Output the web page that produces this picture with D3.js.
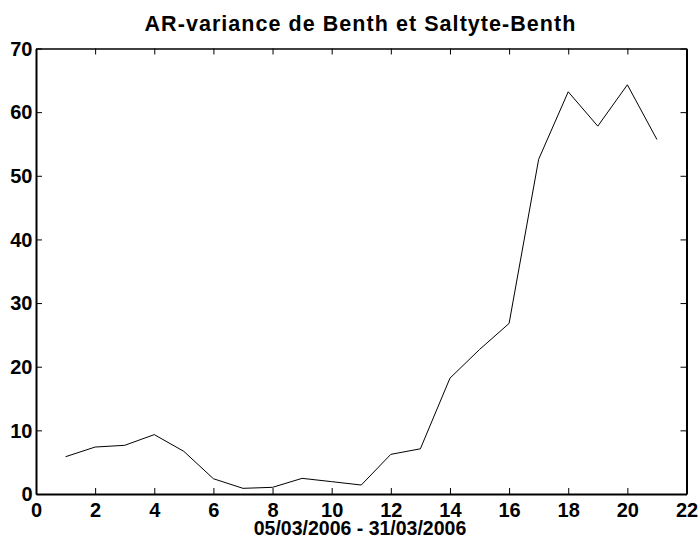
<!DOCTYPE html>
<html>
<head>
<meta charset="utf-8">
<script src="https://cdn.jsdelivr.net/npm/d3@7"></script>
<style>
  html, body { margin: 0; padding: 0; background: #fff; }
  svg { display: block; }
  text { font-family: "Liberation Sans", Arial, sans-serif; font-weight: bold; fill: #000; }
</style>
</head>
<body>
<svg id="chart" width="700" height="539"></svg>
<script>
// Observation index (days) and AR variance estimates
const days = [1,2,3,4,5,6,7,8,9,10,11,12,13,14,15,16,17,18,19,20,21];
const variance = [5.86,7.38,7.65,9.33,6.7,2.4,0.89,1.05,2.46,1.94,1.41,6.23,7.1,18.2,22.7,26.8,52.6,63.2,57.8,64.3,55.7];
const xTicks = [0,2,4,6,8,10,12,14,16,18,20,22];
const yTicks = [0,10,20,30,40,50,60,70];
const titleText = "AR-variance de Benth et Saltyte-Benth";
const xLabelText = "05/03/2006 - 31/03/2006";

const svg = d3.select("#chart");
const plotLeft = 36, plotRight = 686.5, plotTop = 48.5, plotBottom = 494;

const x = d3.scaleLinear().domain([0, 22]).range([plotLeft, plotRight]);
const y = d3.scaleLinear().domain([0, 70]).range([plotBottom, plotTop]);

const tickLen = 6;

// bottom axis (ticks pointing inward)
const gx = svg.append("g").attr("transform", `translate(0,${plotBottom})`)
  .call(d3.axisBottom(x).tickValues(xTicks).tickSizeInner(-tickLen).tickSizeOuter(0).tickPadding(8.5));
// left axis
const gy = svg.append("g").attr("transform", `translate(${plotLeft},0)`)
  .call(d3.axisLeft(y).tickValues(yTicks).tickSizeInner(-tickLen).tickSizeOuter(0).tickPadding(3.5));
// top and right mirrored ticks without labels
const gt = svg.append("g").attr("transform", `translate(0,${plotTop})`)
  .call(d3.axisTop(x).tickValues(xTicks).tickSizeInner(-tickLen).tickSizeOuter(0).tickFormat(""));
const gr = svg.append("g").attr("transform", `translate(${plotRight},0)`)
  .call(d3.axisRight(y).tickValues(yTicks).tickSizeInner(-tickLen).tickSizeOuter(0).tickFormat(""));

[gx, gy, gt, gr].forEach(g => {
  g.select(".domain").attr("stroke", "#000").attr("stroke-width", 2);
  g.selectAll(".tick line").attr("stroke", "#000").attr("stroke-width", 1);
  g.selectAll(".tick text").style("font-size", "20px").style("font-weight", "bold")
    .style("font-family", "'Liberation Sans', Arial, sans-serif").attr("fill", "#000");
});
gt.select(".domain").attr("stroke-width", 1.5);
gy.selectAll(".tick text").attr("dy", "0.34em");

// data line
const line = d3.line().x((d, i) => x(days[i])).y(d => y(d));
svg.append("path")
  .datum(variance)
  .attr("d", line)
  .attr("fill", "none")
  .attr("stroke", "#000")
  .attr("stroke-width", 1);

// title
svg.append("text")
  .attr("x", 360.5)
  .attr("y", 31)
  .attr("text-anchor", "middle")
  .style("font-size", "21.5px")
  .style("letter-spacing", "1.05px")
  .text(titleText);

// x label
svg.append("text")
  .attr("x", 360)
  .attr("y", 535)
  .attr("text-anchor", "middle")
  .style("font-size", "19.5px")
  .text(xLabelText);
</script>
</body>
</html>
